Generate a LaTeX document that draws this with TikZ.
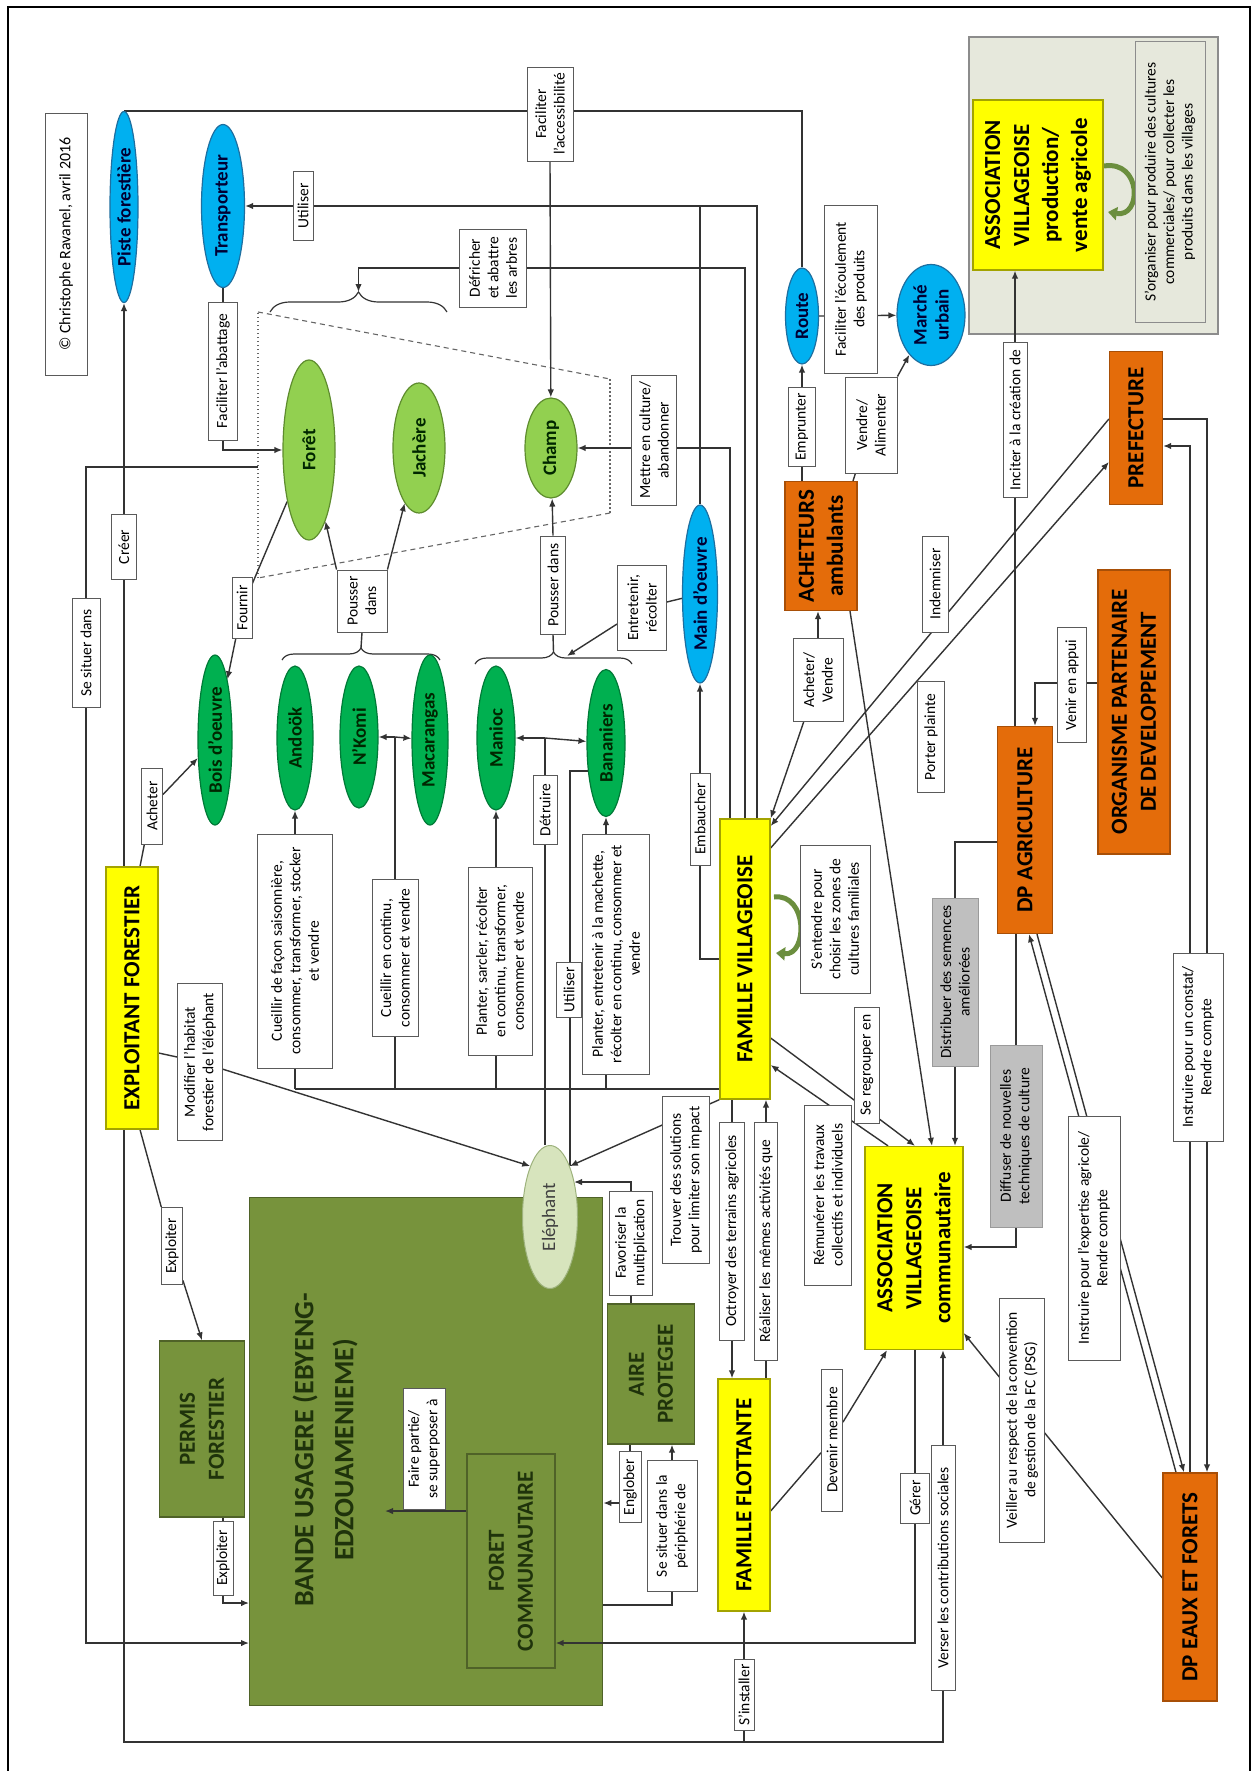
\documentclass[tikz,border=0pt]{standalone}
\usepackage{fontspec}
\setmainfont{Carlito}
\usetikzlibrary{shapes.geometric,arrows.meta,calc,decorations.pathreplacing}

\definecolor{cyel}{HTML}{FFFF00}
\definecolor{cyelb}{HTML}{A3A300}
\definecolor{corg}{HTML}{E46C0A}
\definecolor{corgb}{HTML}{A84F07}
\definecolor{coli}{HTML}{77933C}
\definecolor{colib}{HTML}{4F6228}
\definecolor{colit}{HTML}{1F330B}
\definecolor{clgr}{HTML}{92D050}
\definecolor{clgrb}{HTML}{5E8C2E}
\definecolor{cdgr}{HTML}{00B050}
\definecolor{cdgrb}{HTML}{007A37}
\definecolor{cblu}{HTML}{00B0F0}
\definecolor{cblub}{HTML}{1E6FA0}
\definecolor{celf}{HTML}{D7E4BD}
\definecolor{celfb}{HTML}{9DB27C}
\definecolor{cgry}{HTML}{BFBFBF}
\definecolor{cgryb}{HTML}{9A9A9A}
\definecolor{cpan}{HTML}{E6E8DC}
\definecolor{cpanb}{HTML}{8C8C8C}
\definecolor{cln}{HTML}{333333}
\definecolor{clbl}{HTML}{5A5A5A}
\definecolor{cloop}{HTML}{6B8E3E}

\newcommand\lblfont{\fontsize{15.5}{18.5}\selectfont}
\newcommand\ttlfont{\fontsize{23}{29}\selectfont\bfseries}
\newcommand\ellfont{\fontsize{19}{22}\selectfont\bfseries}
\newcommand\bandfont{\fontsize{28}{40}\selectfont\bfseries}

\pgfdeclarelayer{back}
\pgfdeclarelayer{lines}
\pgfsetlayers{back,lines,main}

\begin{document}
\begin{tikzpicture}[x=1pt,y=-1pt,
  sz/.style 2 args={minimum height=#1pt, minimum width=#2pt},
  base/.style={rotate=90, align=center},
  lbl/.style={base, draw=clbl, fill=white, line width=0.9pt, font=\lblfont, inner xsep=2pt, inner ysep=1pt},
  gry/.style={lbl, fill=cgry, draw=cgryb},
  yel/.style={base, fill=cyel, draw=cyelb, line width=1.3pt, font=\ttlfont, inner sep=2pt},
  org/.style={base, fill=corg, draw=corgb, line width=1.3pt, font=\ttlfont, inner sep=2pt},
  oli/.style={base, fill=coli, draw=colib, line width=1.3pt, font=\ttlfont, text=colit, inner sep=2pt},
  ell/.style={base, ellipse, inner sep=0pt, line width=1.2pt, font=\ellfont},
  lgr/.style={ell, fill=clgr, draw=clgrb, text=black!85!green},
  dgr/.style={ell, fill=cdgr, draw=cdgrb, text=black!85!green},
  blu/.style={ell, fill=cblu, draw=cblub, text=black!80!blue},
  eleph/.style={base, ellipse, inner sep=0pt, fill=celf, draw=celfb, line width=1pt, font=\fontsize{19}{22}\selectfont, text=black!75},
  ln/.style={draw=cln, line width=1.4pt},
  ar/.style={ln, -{Latex[length=8pt,width=6.5pt]}},
  zone/.style={draw=black!60, line width=1.1pt, dash pattern=on 5pt off 4pt},
  zonev/.style={draw=black!60, line width=1.1pt, dash pattern=on 1.5pt off 2.5pt},
  brc/.style={draw=cln, line width=1.2pt, decorate},
  loopar/.style={draw=cloop, line width=5pt, -{Triangle[length=9pt,width=13pt]}},
  frame/.style={draw=black, line width=1.4pt}
]
\useasboundingbox (0,0) rectangle (1255,1771);

% ---------- large areas ----------
\begin{pgfonlayer}{back}
  \node[fill=cpan, draw=cpanb, line width=1.6pt, minimum width=249pt, minimum height=297pt, anchor=north west, inner sep=0pt] (panel) at (968,36) {};
  \node[fill=coli, draw=colib, line width=1.3pt, minimum width=353pt, minimum height=508pt, anchor=north west, inner sep=0pt] (bande) at (249,1197) {};
\end{pgfonlayer}

% ---------- frame and credit ----------
\draw[frame] (8,1771) -- (8,7) -- (1250,7) -- (1250,1771);
\node[lbl, sz={42}{262}, font=\fontsize{16}{19}\selectfont] (copy) at (66,244) {© Christophe Ravanel, avril 2016};

% ---------- infrastructures ----------
\node[blu, sz={28}{191}] (piste) at (124,207) {Piste forestière};
\node[blu, sz={43}{163}] (transp) at (223,206) {Transporteur};
\node[lbl, sz={20}{69}] (util1) at (303,206) {Utiliser};
\node[lbl, sz={29}{138}] (facab) at (223,371) {Faciliter l'abattage};
\node[lbl, sz={46}{94}] (facacc) at (550,114) {Faciliter\\l'accessibilité};
\node[blu, sz={33}{96}] (route) at (802,316) {Route};
\node[lbl, sz={27}{79}] (emprunter) at (802,427) {Emprunter};
\node[lbl, sz={53}{168}] (facecoul) at (851,289) {Faciliter l'écoulement\\des produits};
\node[blu, sz={68}{101}] (marche) at (931,315) {Marché\\urbain};
\node[lbl, sz={52}{96}] (vendre) at (871,425) {Vendre/\\Alimenter};
\node[org, sz={72}{129}] (achet) at (821,546) {ACHETEURS\\ambulants};
\node[lbl, sz={50}{83}] (acheterv) at (818,680) {Acheter/\\Vendre};

% ---------- land units ----------
\node[lgr, sz={52}{180}] (foret) at (309,450) {Forêt};
\node[lgr, sz={52}{130}] (jachere) at (419,448) {Jachère};
\node[lgr, sz={52}{100}] (champ) at (551,448) {Champ};
\node[lbl, sz={67}{78}] (defr) at (493,268) {Défricher\\et abattre\\les arbres};
\node[lbl, sz={45}{130}] (mettre) at (654,440) {Mettre en culture/\\abandonner};

% ---------- resources ----------
\node[dgr, sz={34}{170}] (bois) at (215,740) {Bois d'oeuvre};
\node[lbl, sz={20}{61}] (fournir) at (242,608) {Fournir};
\node[lbl, sz={50}{62}] (pousser1) at (362,601) {Pousser\\dans};
\node[dgr, sz={36}{144}] (andook) at (295,738) {Andoök};
\node[dgr, sz={38}{142}] (nkomi) at (359,737) {N'Komi};
\node[dgr, sz={36}{170}] (macar) at (430,740) {Macarangas};
\node[dgr, sz={38}{144}] (manioc) at (496,738) {Manioc};
\node[dgr, sz={38}{147}] (banan) at (606,743) {Bananiers};
\node[lbl, sz={25}{98}] (pousser2) at (553,585) {Pousser dans};
\node[lbl, sz={49}{85}] (entret) at (642,608) {Entretenir,\\récolter};
\node[blu, sz={35}{178}] (maindo) at (700,594) {Main d'oeuvre};
\node[lbl, sz={24}{69}] (detruire) at (545,810) {Détruire};
\node[lbl, sz={25}{55}] (util2) at (569,990) {Utiliser};
\node[lbl, sz={75}{234}] (cueil1) at (295,951) {Cueillir de façon saisonnière,\\consommer, transformer, stocker\\et vendre};
\node[lbl, sz={46}{157}] (cueil2) at (395,958) {Cueillir en continu,\\consommer et vendre};
\node[lbl, sz={64}{188}] (planter1) at (500,961) {Planter, sarcler, récolter\\en continu, transformer,\\consommer et vendre};
\node[lbl, sz={67}{240}] (planter2) at (616,954) {Planter, entretenir à la machette,\\récolter en continu, consommer et\\vendre};
\node[lbl, sz={20}{92}] (embaucher) at (700,819) {Embaucher};

% ---------- logging ----------
\node[yel, sz={52}{262}] (exploitant) at (132,998) {EXPLOITANT FORESTIER};
\node[lbl, sz={25}{65}] (creer) at (124,547) {Créer};
\node[lbl, sz={28}{109}] (situer) at (86,653) {Se situer dans};
\node[lbl, sz={21}{76}] (acheter) at (152,806) {Acheter};
\node[lbl, sz={45}{157}] (modifier) at (200,1062) {Modifier l'habitat\\forestier de l'éléphant};
\node[lbl, sz={21}{77}] (exploit1) at (172,1246) {Exploiter};
\node[oli, sz={85}{176}] (permis) at (202,1429) {PERMIS\\FORESTIER};
\node[lbl, sz={20}{74}] (exploit2) at (223,1558) {Exploiter};

% ---------- territories ----------
\node[base, font=\bandfont, text=colit] (bandetxt) at (325,1450) {BANDE USAGERE (EBYENG-\\EDZOUAMENIEME)};
\node[oli, sz={88}{214}] (foretcom) at (511,1561) {FORET\\COMMUNAUTAIRE};
\node[lbl, sz={42}{121}] (fairep) at (424,1449) {Faire partie/\\se superposer à};
\node[oli, sz={87}{140}] (aire) at (651,1374) {AIRE\\PROTEGEE};
\node[lbl, sz={22}{71}] (englober) at (630,1487) {Englober};
\node[lbl, sz={50}{131}] (periph) at (672,1526) {Se situer dans la\\périphérie de};
\node[eleph, sz={55}{143}] (elephant) at (550,1217) {Eléphant};
\node[lbl, sz={43}{104}] (favor) at (631,1243) {Favoriser la\\multiplication};

% ---------- families ----------
\node[yel, sz={50}{280}] (famvil) at (745,959) {FAMILLE VILLAGEOISE};
\node[lbl, sz={70}{148}] (entendre) at (835,919) {S'entendre pour\\choisir les zones de\\cultures familiales};
\node[lbl, sz={25}{116}] (regroup) at (867,1065) {Se regrouper en};
\node[lbl, sz={47}{180}] (remun) at (828,1195) {Rémunérer les travaux\\collectifs et individuels};
\node[lbl, sz={23}{238}] (realiser) at (766,1241) {Réaliser les mêmes activités que};
\node[lbl, sz={25}{218}] (octroyer) at (732,1231) {Octroyer des terrains agricoles};
\node[lbl, sz={47}{167}] (trouver) at (686,1180) {Trouver des solutions\\pour limiter son impact};
\node[yel, sz={52}{232}] (famflot) at (744,1495) {FAMILLE FLOTTANTE};
\node[lbl, sz={20}{71}] (installer) at (744,1695) {S'installer};
\node[lbl, sz={21}{142}] (devenir) at (832,1440) {Devenir membre};

% ---------- associations and institutions ----------
\node[yel, sz={130}{170}] (prod) at (1038,185) {ASSOCIATION\\VILLAGEOISE\\production/\\vente agricole};
\node[lbl, fill=cpan, draw=cpanb, sz={70}{281}] (sorg) at (1170,182) {S'organiser pour produire des cultures\\commerciales/ pour collecter les\\produits dans les villages};
\node[lbl, sz={24}{155}] (inciter) at (1015,420) {Inciter à la création de};
\node[org, sz={53}{153}] (pref) at (1136,428) {PREFECTURE};
\node[lbl, sz={26}{96}] (indemn) at (935,584) {Indemniser};
\node[lbl, sz={27}{111}] (plainte) at (931,737) {Porter plainte};
\node[org, sz={72}{284}] (orga) at (1134,712) {ORGANISME PARTENAIRE\\DE DEVELOPPEMENT};
\node[lbl, sz={29}{115}] (appui) at (1072,685) {Venir en appui};
\node[org, sz={55}{207}] (dpagri) at (1025,830) {DP AGRICULTURE};
\node[gry, sz={46}{168}] (distrib) at (955,982) {Distribuer des semences\\améliorées};
\node[gry, sz={52}{182}] (diffus) at (1016,1136) {Diffuser de nouvelles\\techniques de culture};
\node[lbl, sz={52}{244}] (instr1) at (1094,1238) {Instruire pour l'expertise agricole/\\Rendre compte};
\node[lbl, sz={50}{188}] (instr2) at (1198,1047) {Instruire pour un constat/\\Rendre compte};
\node[org, sz={54}{228}] (dpeaux) at (1190,1587) {DP EAUX ET FORETS};
\node[lbl, sz={45}{244}] (veiller) at (1022,1420) {Veiller au respect de la convention\\de gestion de la FC (PSG)};
\node[yel, sz={98}{203}] (assoc) at (914,1248) {ASSOCIATION\\VILLAGEOISE\\communautaire};
\node[lbl, sz={24}{245}] (verser) at (943,1568) {Verser les contributions sociales};
\node[lbl, sz={29}{50}] (gerer) at (915,1498) {Gérer};

% ---------- helper points ----------
\coordinate (zoneL) at (258,467);
\coordinate (bot) at (0,1742);
\coordinate (base) at (0,1089);
\coordinate (b1tip) at (358.5,292);
\coordinate (b2tip) at (361,648);
\coordinate (b3tip) at (553.5,652);
\coordinate (b3arr) at (567,656);
\coordinate (fpTip) at (385,1511);
\coordinate (elephTip) at ($(elephant.center)+(24,-35)$);
\coordinate (bananTip) at ($(banan.center)+(-17.5,28)$);

% ---------- connectors ----------
\begin{pgfonlayer}{lines}
  % cultivated zone and braces
  \draw[zone] (258,312) -- (610,379);
  \draw[zone] (610,513) -- (258,578);
  \draw[zonev] (610,379) -- (610,513);
  \draw[zonev] (258,578) -- (258,312);
  \draw[brc, decoration={brace, amplitude=20pt}] (270,312) -- (447,312);
  \draw[brc, decoration={brace, amplitude=12pt}] (282,660) -- (440,660);
  \draw[brc, decoration={brace, amplitude=12pt}] (475,664) -- (632,664);

  % tracks, roads, transport
  \draw[ln] (piste.east) -- (piste.east -| facacc.north);
  \draw[ln] (facacc.south |- piste.east) -| (route.east);
  \draw[ar] (facacc.west) -- (champ);
  \draw[ar] (757,0 |- famvil.east) |- (transp);
  \draw[ln] (maindo.east) -- (maindo.east |- transp);
  \draw[ar] (transp.west) |- (foret);
  \draw[ar] (piste.west |- exploitant.east) -- (piste.west);
  \draw[ar] (exploitant.west -| piste.west) |- (bot -| verser) -- (verser |- assoc.west);
  \draw[ar] (bot -| famflot.west) -- (famflot.west);
  \draw[ar] (zoneL) -| (situer.center) |- (bande.west |- 0,1643);

  % logging company
  \draw[ar] (140,0 |- exploitant.east) -- (acheter) -- (bois);
  \draw[ar] (exploitant.south |- 0,1053) -- (modifier) -- (elephant.north east);
  \draw[ar] (140,0 |- exploitant.west) -- (exploit1) -- (permis.east);
  \draw[ar] (permis.west -| exploit2) |- (bande.west |- 0,1603);

  % forest, fallow, field
  \draw[ar] (foret) -- (fournir) -- (bois);
  \draw[ar] (pousser1.north east) -- (foret);
  \draw[ar] (pousser1.south east) -- (jachere);
  \draw[ln] (pousser1.west) -- (b2tip);
  \draw[ar] (pousser2.east) -- (champ);
  \draw[ln] (pousser2.west) -- (b3tip);
  \draw[ar] (entret.north |- 0,624) -- (b3arr);
  \draw[ln] (maindo) -- (entret);
  \draw[ar] (famvil.north) -| (maindo.west);
  \draw[ar] (730,0 |- famvil.east) |- (champ);
  \draw[ar] (745,0 |- famvil.east) |- (b1tip |- defr) -- (b1tip);

  % harvesting
  \draw[ln] (famvil.north |- base) -- (cueil1 |- base);
  \draw[ar] (cueil1 |- base) -- (andook);
  \draw[ln] (cueil2 |- base) -- (cueil2 |- nkomi);
  \draw[ar] (cueil2 |- nkomi) -- (nkomi);
  \draw[ar] (cueil2 |- nkomi) -- (macar);
  \draw[ar] (manioc |- base) -- (manioc);
  \draw[ar] (banan |- base) -- (banan);

  % elephant
  \draw[ln] (elephant.east -| detruire) -- (detruire |- manioc);
  \draw[ar] (detruire |- manioc) -- (manioc);
  \draw[ar] (detruire |- manioc) -- (banan);
  \draw[ln] (elephant.south east) |- (bananTip);
  \draw[ar] (famvil.north west) -- (elephant.south east);
  \draw[ar] (aire.east -| favor) |- (elephTip);

  % buyers and markets
  \draw[ar] (acheterv) -- (famvil.south east);
  \draw[ar] (acheterv) -- (acheterv |- achet.west);
  \draw[ar] (850,0 |- achet.west) -- (932,0 |- assoc.east);
  \draw[ar] (route.west |- achet.east) -- (route.west);
  \draw[ar] (route.south) -- (marche);
  \draw[ar] (853,0 |- achet.east) -- (vendre) -- (marche);

  % village family relations
  \draw[ar] (pref.north |- 0,419) -- (famvil.south |- 0,826);
  \draw[ar] (famvil.south |- 0,848) -- (pref.north |- 0,462);
  \draw[ar] (famvil.south |- 0,1038) -- (regroup.north |- 0,1100) -- (915,0 |- assoc.east);
  \draw[ar] (888,0 |- assoc.east) -- (famvil.south |- 0,1065);
  \draw[ar] (famvil.west -| octroyer) -- (famflot.east -| octroyer);
  \draw[ar] (famflot.east -| realiser) -- (famvil.west -| realiser);

  % territories
  \draw[ar] (foretcom.north |- fpTip) -- (fpTip);
  \draw[ar] (aire.west -| englober) |- (bande.east |- 0,1503);
  \draw[ar] (bande.east |- 0,1605) -| (aire.west -| periph);
  \draw[ar] (assoc.west -| gerer) |- (foretcom.south |- 0,1643);
  \draw[ar] (famflot.south |- 0,1511) -- (devenir) -- (887,0 |- assoc.west);

  % institutions
  \draw[ar] (dpeaux.north |- 0,1578) -- (assoc.south |- 0,1333);
  \draw[ar] ($(dpeaux.east)+(-14,0)$) -- ($(dpagri.west)+(4,0)$);
  \draw[ar] ($(dpagri.west)+(12,0)$) -- ($(dpeaux.east)+(-6,0)$);
  \draw[ar] (pref.south |- 0,419) -| ($(dpeaux.east)+(17,0)$);
  \draw[ar] (dpeaux.east) |- (pref.south |- 0,446);
  \draw[ar] (orga.north |- 0,683) -| (1035,0 |- dpagri.east);
  \draw[ar] (dpagri.north |- 0,842) -| (distrib |- assoc.east);
  \draw[ar] (dpagri.east -| inciter) -- (prod.west -| inciter);
  \draw[ar] (dpagri.west -| diffus) |- (assoc.south |- 0,1247);

  % self loops
  \draw[loopar] (774,897) .. controls (808,893) and (808,956) .. (776,953);
  \draw[loopar] (1104,166) .. controls (1142,160) and (1142,218) .. (1108,212);
\end{pgfonlayer}
\end{tikzpicture}
\end{document}
